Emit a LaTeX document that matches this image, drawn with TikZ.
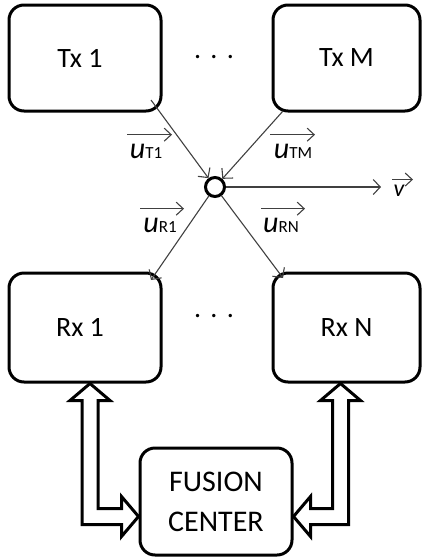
\documentclass[tikz,border=0pt]{standalone}
\usepackage{fontspec}
\setmainfont{Carlito}
\usetikzlibrary{calc,arrows.meta}
\tikzset{
  box/.style={draw=black,line width=3pt,rounded corners=15pt,inner sep=0pt,outer sep=0pt,
    font=\fontsize{28}{38}\selectfont,align=center},
  conn/.style={draw=black!75,line width=1.1pt,-{Straight Barb[length=7pt,width=15pt,line width=1.1pt]}},
  vecar/.style={draw=black!75,line width=1.1pt,-{Straight Barb[length=7pt,width=13pt,line width=1.1pt]}},
  hollow/.style={draw=black,line width=3pt,line join=miter,fill=white},
  lbl/.style={inner sep=0pt,outer sep=0pt},
  dots/.style={inner sep=0pt,font=\fontsize{28}{30}\selectfont}
}
\newcommand{\uvec}[1]{{\fontsize{30}{30}\selectfont\itshape u}{\fontsize{17}{17}\selectfont #1}}
\begin{document}
\begin{tikzpicture}[x=1pt,y=-1pt]
\useasboundingbox (0,0) rectangle (424,558);
\node[box,minimum width=152pt,minimum height=106pt] (tx1) at (85,58) {Tx 1\hspace*{10pt}};
\node[box,minimum width=147pt,minimum height=106pt] (txm) at (346.5,58) {Tx M};
\node[box,minimum width=152pt,minimum height=109pt] (rx1) at (85,327.5) {Rx 1\hspace*{10pt}};
\node[box,minimum width=147pt,minimum height=109pt] (rxn) at (346.5,327.5) {Rx N};
\node[box,minimum width=152pt,minimum height=107pt,font=\fontsize{30}{40}\selectfont] (fc) at (216,501.5) {FUSION\\CENTER};
\node[dots] (d1) at (214,57) {.\,\,.\,\,.};
\node[dots] (d2) at (214,316) {.\,\,.\,\,.};
\node[draw=black,line width=3pt,circle,minimum size=19pt,inner sep=0pt,fill=white] (c) at (215,187) {};
\coordinate (t1s) at ($(tx1.south east)+(-10,-11)$);
\coordinate (tms) at ($(txm.south west)+(10,0)$);
\coordinate (r1e) at ($(rx1.north east)+(-10,7)$);
\coordinate (rne) at ($(rxn.north west)+(10,5)$);
\coordinate (ve) at (381,187);
\draw[conn] (t1s) -- (c);
\draw[conn] (tms) -- (c);
\draw[conn] (c) -- (r1e);
\draw[conn] (c) -- (rne);
\draw[conn] (c) -- (ve);
\node[lbl,anchor=base] (ut1) at (146,158) {\uvec{T1}};
\node[lbl,anchor=base] (utm) at (293,158) {\uvec{TM}};
\node[lbl,anchor=base] (ur1) at (160,232) {\uvec{R1}};
\node[lbl,anchor=base] (urn) at (281,232) {\uvec{RN}};
\node[lbl,anchor=base] (v) at (399,196) {\fontsize{24}{24}\selectfont\itshape v};
\draw[vecar] ($(ut1.north)+(-19,-9)$) -- +(45,0);
\draw[vecar] ($(utm.north)+(-23,-9)$) -- +(45,0);
\draw[vecar] ($(ur1.north)+(-20,-9)$) -- +(44,0);
\draw[vecar] ($(urn.north)+(-20,-9)$) -- +(44,0);
\draw[vecar] ($(v.north)+(-7,-5)$) -- +(21,0);
% hollow double arrows
\coordinate (la) at ($(rx1.south)+(5,1.5)$);
\coordinate (lb) at ($(fc.west)+(-1.5,15)$);
\coordinate (lk) at (la|-lb);
\draw[hollow] (la) -- ($(la)+(20,17)$) -- ($(la)+(8,17)$) -- ($(lk)+(8,-8)$) -- ($(lb)+(-17,-8)$) -- ($(lb)+(-17,-20)$) -- (lb) -- ($(lb)+(-17,20)$) -- ($(lb)+(-17,8)$) -- ($(lk)+(-8,8)$) -- ($(la)+(-8,17)$) -- ($(la)+(-20,17)$) -- cycle;
\coordinate (ra) at ($(rxn.south)+(-6,1.5)$);
\coordinate (rb) at ($(fc.east)+(1.5,15)$);
\coordinate (rk) at (ra|-rb);
\draw[hollow] (ra) -- ($(ra)+(20,17)$) -- ($(ra)+(8,17)$) -- ($(rk)+(8,8)$) -- ($(rb)+(17,8)$) -- ($(rb)+(17,20)$) -- (rb) -- ($(rb)+(17,-20)$) -- ($(rb)+(17,-8)$) -- ($(rk)+(-8,-8)$) -- ($(ra)+(-8,17)$) -- ($(ra)+(-20,17)$) -- cycle;
\end{tikzpicture}
\end{document}
